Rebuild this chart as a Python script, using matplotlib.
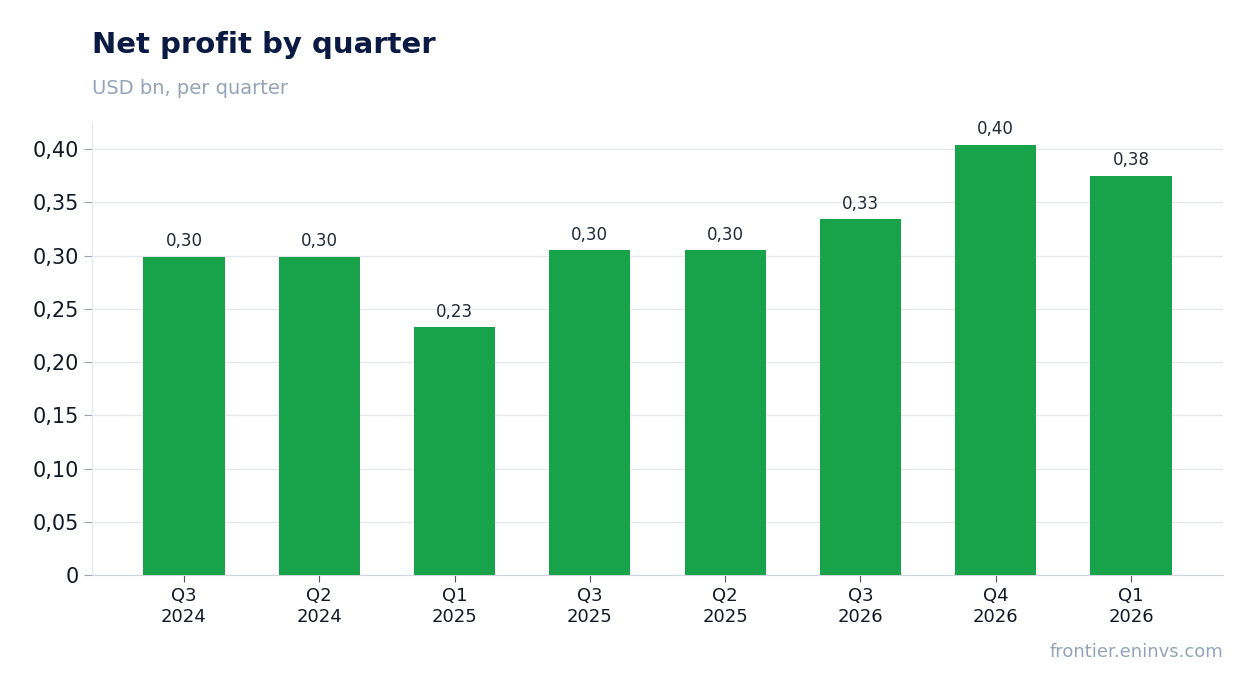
import matplotlib
matplotlib.use("Agg")
import matplotlib.pyplot as plt

categories = ["Q3\n2024", "Q2\n2024", "Q1\n2025", "Q3\n2025", "Q2\n2025", "Q3\n2026", "Q4\n2026", "Q1\n2026"]
values = [0.299, 0.299, 0.233, 0.305, 0.305, 0.334, 0.404, 0.375]
yticks = [0, 0.05, 0.10, 0.15, 0.20, 0.25, 0.30, 0.35, 0.40]

fig = plt.figure(figsize=(12.54, 6.93), dpi=100)
ax = fig.add_axes([92/1254, 1-575/693, (1223-92)/1254, (575-123)/693])
x = range(len(categories))
ax.bar(x, values, width=0.6, color="#18a34a", zorder=3)
for xi, v in zip(x, values):
    ax.text(xi, v + 0.006, f"{v:.2f}".replace(".", ","), ha="center", va="bottom", fontsize=12, color="#1f2937")
ax.set_xlim(-0.68, 7.68)
ax.set_ylim(0, 0.4245)
ax.set_yticks(yticks)
ax.set_yticklabels(["0" if t == 0 else f"{t:.2f}".replace(".", ",") for t in yticks], fontsize=15, color="#111827")
ax.set_xticks(list(x))
ax.set_xticklabels(categories, fontsize=13, color="#111827")
ax.grid(axis="y", color="#e5e7eb", linewidth=1, zorder=0)
for s in ["top", "right"]:
    ax.spines[s].set_visible(False)
ax.spines["left"].set_color("#e5e7eb")
ax.spines["bottom"].set_color("#d1d5db")
ax.tick_params(axis="y", length=6, color="#9ca3af")
ax.tick_params(axis="x", length=5, color="#4b5563")
fig.text(92/1254, 1-45/693, "Net profit by quarter", fontsize=21, fontweight="bold", color="#0b1a42", va="center")
fig.text(92/1254, 1-88/693, "USD bn, per quarter", fontsize=14, color="#94a3b8", va="center")
fig.text(1223/1254, 1-652/693, "frontier.eninvs.com", fontsize=13, color="#94a3b8", ha="right", va="center")
fig.savefig("out.png", dpi=100)
